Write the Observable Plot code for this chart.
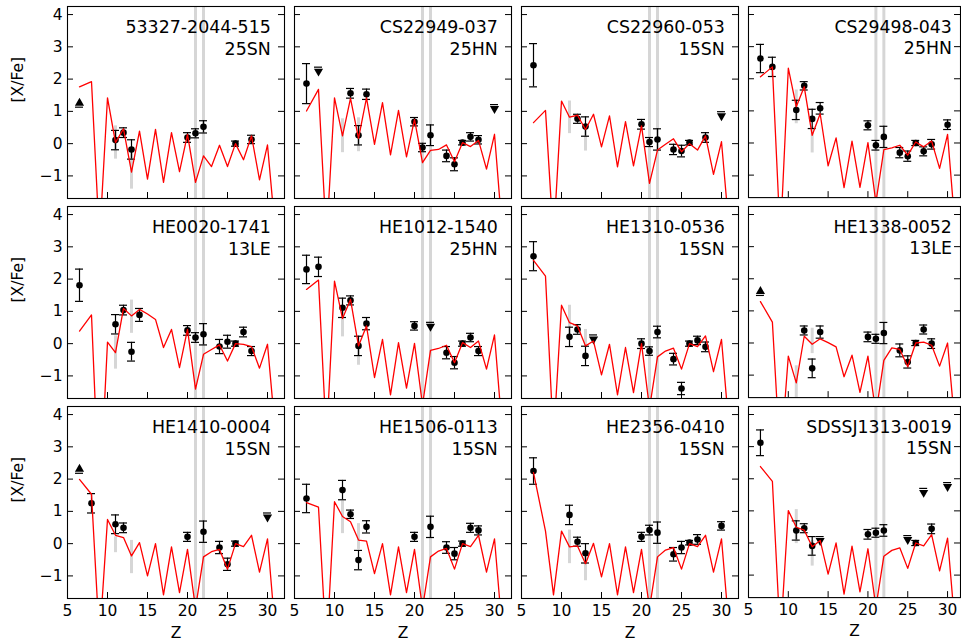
<!DOCTYPE html>
<html><head><meta charset="utf-8">
<script src="https://cdn.jsdelivr.net/npm/d3@7"></script>
<script src="https://cdn.jsdelivr.net/npm/@observablehq/plot@0.6"></script>
<style>
html,body{margin:0;padding:0;background:#fff;overflow:hidden;}
#fig{position:relative;width:961px;height:644px;overflow:hidden;background:#fff;}
#fig > div{position:absolute;}
</style></head><body><div id="fig"></div>
<script>
// ---------- data ----------
const STARS  = ["53327-2044-515","CS22949-037","CS22960-053","CS29498-043",
                "HE0020-1741","HE1012-1540","HE1310-0536","HE1338-0052",
                "HE1410-0004","HE1506-0113","HE2356-0410","SDSSJ1313-0019"];
const MODELS = ["25SN","25HN","15SN","25HN","13LE","25HN","15SN","13LE","15SN","15SN","15SN","15SN"];
const X_TICKS = [5,10,15,20,25,30];
const Y_TICKS = [-1,0,1,2,3,4];
const BAND_Z = [21,22];
// model [X/Fe] at these Z
const MODEL_Z = [6.5,8,9,10,11,12,13,14,15,16,17,18,19,20,21,22,23,24,25,26,27,28,29,30,31];
const M1  = [1.76,1.92,-3.0,1.42,0.03,0.46,-0.88,0.39,-1.10,0.44,-1.20,0.34,-0.87,0.29,-1.20,-0.38,-0.71,-0.05,-0.71,0.00,-0.50,0.24,-1.12,-0.04,-2.8];
const M2  = [1.01,1.68,-3.0,1.42,0.24,1.40,0.16,1.42,-0.02,1.27,-0.35,1.03,-0.41,0.75,-0.59,-0.21,-0.18,-0.04,-0.56,0.03,-0.09,0.10,-0.79,0.29,-2.8];
const M3  = [0.65,1.03,-3.0,1.32,0.82,0.88,0.44,0.91,-0.10,0.86,-0.72,0.68,-0.69,0.55,-1.23,-0.20,-0.02,0.15,-0.25,0.00,-0.20,0.24,-0.95,0.06,-2.8];
const M4  = [2.06,2.37,-3.0,2.33,1.13,1.75,0.24,0.91,-0.71,0.16,-1.39,0.06,-1.38,0.01,-1.85,-0.21,-0.15,-0.07,-0.38,0.03,-0.12,0.06,-0.79,0.27,-2.8];
const M5  = [0.39,0.89,-5.0,0.05,-0.28,1.09,0.86,1.06,0.92,0.75,-0.12,0.44,-0.74,0.44,-1.41,-0.33,-0.18,-0.04,-0.54,0.00,-0.02,-0.09,-0.76,-0.02,-2.8];
const M6  = [1.68,1.97,-3.0,1.94,0.78,1.37,-0.07,0.55,-1.05,0.13,-1.59,0.03,-1.38,0.01,-1.90,-0.21,-0.15,-0.05,-0.59,0.03,-0.12,0.08,-0.79,0.27,-2.8];
const M7  = [2.58,2.09,-3.0,1.19,0.65,0.55,-0.07,0.08,-0.97,-0.02,-1.59,-0.12,-1.52,0.00,-2.0,-0.41,-0.23,-0.14,-0.79,0.00,-0.09,0.24,-0.87,0.13,-2.8];
const M8  = [1.29,0.65,-3.7,-0.41,-1.24,0.21,-0.04,0.13,0.01,-0.12,-1.05,-0.38,-1.54,-0.41,-2.2,-0.54,-0.15,-0.20,-0.74,0.00,0.03,-0.07,-0.72,0.00,-2.8];
const M9  = [1.99,1.53,-3.0,0.75,0.26,0.19,-0.38,0.03,-1.00,0.00,-1.59,-0.10,-1.52,-0.18,-2.0,-0.41,-0.25,-0.18,-0.79,0.00,-0.09,0.26,-0.88,0.15,-2.8];
const M10 = [1.27,1.13,-3.3,1.30,0.84,0.68,0.11,0.08,-0.93,0.00,-1.59,-0.10,-1.52,-0.18,-2.0,-0.41,-0.23,-0.15,-0.79,0.00,-0.09,0.26,-0.88,0.15,-2.8];
const M11 = [2.20,0.39,-1.59,0.39,-0.10,-0.07,-0.62,0.01,-1.03,0.00,-1.59,-0.10,-1.52,-0.18,-2.0,-0.41,-0.20,-0.12,-0.79,0.00,-0.09,0.26,-0.88,0.15,-2.8];
const M12 = [2.38,1.92,-3.0,1.01,0.49,0.40,-0.12,0.08,-0.97,0.00,-1.59,-0.10,-1.52,-0.18,-2.0,-0.41,-0.23,-0.15,-0.79,0.00,-0.09,0.26,-0.87,0.15,-2.8];
// observed [Z, [X/Fe], error]
const O1  = [[11,0.11,0.30],[12,0.34,0.15],[13,-0.18,0.30],[20,0.19,0.15],[21,0.32,0.14],[22,0.52,0.19],[26,0.00,0.08],[28,0.13,0.13]];
const O2  = [[6.5,1.86,0.62],[12,1.56,0.15],[13,0.26,0.30],[14,1.53,0.16],[20,0.68,0.13],[21,-0.12,0.13],[22,0.26,0.32],[24,-0.38,0.18],[25,-0.64,0.20],[26,0.03,0.07],[27,0.21,0.13],[28,0.12,0.13]];
const O3  = [[6.5,2.43,0.67],[12,0.77,0.14],[13,0.53,0.30],[20,0.60,0.15],[21,0.05,0.14],[22,0.13,0.33],[24,-0.18,0.16],[25,-0.23,0.18],[26,0.03,0.07],[28,0.19,0.15]];
const O4  = [[6.5,2.63,0.44],[8,2.37,0.30],[11,1.03,0.30],[12,1.78,0.13],[13,0.75,0.30],[14,1.08,0.18],[20,0.55,0.14],[21,-0.07,0.15],[22,0.19,0.33],[24,-0.30,0.16],[25,-0.41,0.16],[26,0.00,0.08],[27,-0.26,0.14],[28,-0.04,0.15],[30,0.57,0.15]];
const O5  = [[6.5,1.81,0.50],[11,0.60,0.30],[12,1.04,0.15],[13,-0.25,0.29],[14,0.89,0.20],[20,0.41,0.15],[21,0.19,0.15],[22,0.29,0.33],[24,-0.09,0.22],[25,0.06,0.20],[26,0.00,0.08],[27,0.36,0.15],[28,-0.23,0.14]];
const O6  = [[6.5,2.30,0.44],[8,2.38,0.30],[11,1.11,0.30],[12,1.34,0.14],[13,-0.07,0.30],[14,0.62,0.19],[20,0.55,0.13],[24,-0.28,0.19],[25,-0.59,0.19],[26,0.00,0.08],[27,0.19,0.13],[28,-0.23,0.14]];
const O7  = [[6.5,2.71,0.45],[11,0.21,0.30],[12,0.44,0.15],[13,-0.38,0.30],[20,0.00,0.15],[21,-0.23,0.13],[22,0.36,0.18],[24,-0.48,0.18],[25,-1.39,0.19],[26,0.00,0.08],[27,0.10,0.13],[28,-0.10,0.15]];
const O8  = [[12,0.39,0.14],[13,-0.79,0.29],[14,0.34,0.19],[20,0.19,0.15],[21,0.13,0.14],[22,0.31,0.33],[24,-0.23,0.20],[25,-0.59,0.19],[26,0.00,0.08],[27,0.42,0.14],[28,-0.02,0.15]];
const O9  = [[8,1.25,0.30],[11,0.60,0.29],[12,0.49,0.15],[20,0.21,0.14],[22,0.37,0.33],[24,-0.12,0.19],[25,-0.64,0.19],[26,0.00,0.08]];
const O10 = [[6.5,1.40,0.44],[11,1.66,0.30],[12,0.91,0.13],[13,-0.51,0.30],[14,0.52,0.19],[20,0.21,0.14],[22,0.52,0.33],[24,-0.12,0.18],[25,-0.31,0.19],[26,0.00,0.08],[27,0.49,0.14],[28,0.41,0.14]];
const O11 = [[6.5,2.25,0.41],[11,0.89,0.30],[12,0.06,0.14],[13,-0.30,0.30],[20,0.21,0.14],[21,0.42,0.15],[22,0.34,0.33],[24,-0.33,0.21],[25,-0.12,0.19],[26,0.03,0.07],[27,0.13,0.15],[30,0.55,0.13]];
const O12 = [[6.5,3.12,0.40],[11,0.39,0.30],[12,0.46,0.14],[13,-0.09,0.29],[20,0.27,0.15],[21,0.32,0.14],[22,0.39,0.18],[26,0.00,0.08],[28,0.44,0.15]];
// limits [Z, value, kind]
const L1  = [[6.5,1.30,"lower"]];
const L2  = [[8,2.20,"upper"],[30,1.04,"upper"]];
const L3  = [[30,0.82,"upper"]];
const L4  = [];
const L5  = [];
const L6  = [[22,0.49,"upper"]];
const L7  = [[14,0.10,"upper"]];
const L8  = [[6.5,1.65,"lower"]];
const L9  = [[6.5,2.35,"lower"],[30,0.78,"upper"]];
const L10 = [];
const L11 = [];
const L12 = [[14,0.03,"upper"],[25,0.06,"upper"],[27,1.53,"upper"],[30,1.71,"upper"]];
// model ranges (grey) [Z, top, bottom]
const B1  = [[11,0.55,-0.48],[13,-0.12,-1.41]];
const B2  = [[11,0.77,-0.28],[13,0.80,-0.25]];
const B3  = [[11,1.32,0.31],[13,0.55,-0.23]];
const B4  = [[11,1.65,0.60],[13,0.50,-0.31]];
const B5  = [[11,0.24,-0.79],[13,1.35,0.32]];
const B6  = [[11,1.11,0.21],[13,0.08,-0.67]];
const B7  = [[11,1.19,0.21],[13,0.44,-0.12]];
const B8  = [[11,-0.71,-1.90],[13,0.46,-0.33]];
const B9  = [[11,0.21,-0.28],[13,0.10,-0.93]];
const B10 = [[11,1.32,0.31],[13,0.62,-0.18]];
const B11 = [[11,0.42,-0.62],[13,-0.43,-1.15]];
const B12 = [[11,1.04,-0.02],[13,0.08,-0.72]];

// ---------- layout ----------
const MS = [M1,M2,M3,M4,M5,M6,M7,M8,M9,M10,M11,M12];
const OS = [O1,O2,O3,O4,O5,O6,O7,O8,O9,O10,O11,O12];
const LS = [L1,L2,L3,L4,L5,L6,L7,L8,L9,L10,L11,L12];
const BS = [B1,B2,B3,B4,B5,B6,B7,B8,B9,B10,B11,B12];
const colLeft = [67, 294, 521, 748];
const colWidth = [217, 217, 217, 213];
const textDx = [-13.7, -13.7, -13.7, -8.7];
const rowTop = [6, 206, 406];
const PH = 192;
const FONT = "DejaVu Sans";
const GREY = "#d6d6d6";
const intFmt = d3.format("d");

function tri(down) {
  return {draw(ctx, size) {
    const w = Math.sqrt(size / 0.433), h = w * 0.866, s = down ? -1 : 1;
    ctx.moveTo(0, -s * h / 2);
    ctx.lineTo(w / 2, s * h / 2);
    ctx.lineTo(-w / 2, s * h / 2);
    ctx.closePath();
  }};
}
const TRI_UP = tri(false), TRI_DOWN = tri(true);

const fig = document.getElementById("fig");
for (let i = 0; i < 12; i++) {
  const r = Math.floor(i / 4), c = i % 4;
  const W = colWidth[c];
  const mL = c === 0 ? 67 : 1, mR = 1, mT = 1, mB = r === 2 ? 46 : 1;
  const model = MODEL_Z.map((z, j) => [z, MS[i][j]]);
  const obs = OS[i], lim = LS[i], bars = BS[i];
  const off = d => d[2] === "upper" ? 0.17 : -0.17;
  const marks = [
    Plot.ruleX(BAND_Z, {x: d => d, stroke: GREY, strokeWidth: 3}),
    Plot.ruleX(bars, {x: d => d[0], y1: d => d[1], y2: d => d[2], stroke: GREY, strokeWidth: 3, clip: true}),
    Plot.ruleX(obs, {x: d => d[0], y1: d => d[1] - d[2], y2: d => d[1] + d[2], stroke: "black", strokeWidth: 1.2}),
    Plot.ruleY(obs, {y: d => d[1] - d[2], x1: d => d[0] - 0.5, x2: d => d[0] + 0.5, stroke: "black", strokeWidth: 1.2}),
    Plot.ruleY(obs, {y: d => d[1] + d[2], x1: d => d[0] - 0.5, x2: d => d[0] + 0.5, stroke: "black", strokeWidth: 1.2}),
    Plot.dot(obs, {x: d => d[0], y: d => d[1], r: 3.3, fill: "black", stroke: "none"}),
    Plot.ruleY(lim, {y: d => d[1] + off(d), x1: d => d[0] - 0.5, x2: d => d[0] + 0.5, stroke: "black", strokeWidth: 1.2}),
    Plot.dot(lim.filter(d => d[2] === "lower"), {x: d => d[0], y: d => d[1], r: 3.4, symbol: TRI_UP, fill: "black", stroke: "none"}),
    Plot.dot(lim.filter(d => d[2] === "upper"), {x: d => d[0], y: d => d[1], r: 3.4, symbol: TRI_DOWN, fill: "black", stroke: "none"}),
    Plot.line(model, {x: d => d[0], y: d => d[1], stroke: "#ff0000", strokeWidth: 1.3, clip: true}),
    Plot.tickY(Y_TICKS, {y: d => d, insetRight: W - 6, stroke: "black", strokeWidth: 1}),
    Plot.tickY(Y_TICKS, {y: d => d, insetLeft: W - 6, stroke: "black", strokeWidth: 1}),
    Plot.tickX(X_TICKS, {x: d => d, insetTop: PH - 6, stroke: "black", strokeWidth: 1}),
    Plot.frame({stroke: "black", strokeWidth: 1.1}),
    Plot.text([STARS[i] + "\n" + MODELS[i]], {text: d => d, frameAnchor: "top-right", dx: textDx[c], dy: 11.3,
      textAnchor: "end", lineAnchor: "top", fontSize: 17.4, lineHeight: 1.24, fill: "black"})
  ];
  if (c === 0) {
    marks.push(Plot.axisY({ticks: Y_TICKS, tickFormat: intFmt, tickSize: 0, tickPadding: 5, label: null, fontSize: 15.5}));
    marks.push(Plot.text(["[X/Fe]"], {text: d => d, frameAnchor: "left", dx: -49, rotate: -90, fontSize: 15.5, fill: "black"}));
  }
  if (r === 2) {
    marks.push(Plot.axisX({ticks: X_TICKS, tickFormat: intFmt, tickSize: 0, tickPadding: 6, label: null, fontSize: 15.5}));
    marks.push(Plot.text(["Z"], {text: d => d, frameAnchor: "bottom", dy: 39, fontSize: 15.5, fill: "black"}));
  }
  const svg = Plot.plot({
    width: mL + W + mR, height: mT + PH + mB,
    marginLeft: mL, marginRight: mR, marginTop: mT, marginBottom: mB,
    x: {domain: [5, 5 + W / 8], axis: null},
    y: {domain: [-1.7, 4.25], axis: null},
    style: {fontFamily: FONT, fontSize: "15.5px", background: "transparent", overflow: "visible", color: "black"},
    marks
  });
  const div = document.createElement("div");
  div.style.left = (colLeft[c] - mL) + "px";
  div.style.top = (rowTop[r] - mT) + "px";
  div.appendChild(svg);
  fig.appendChild(div);
}
</script></body></html>
